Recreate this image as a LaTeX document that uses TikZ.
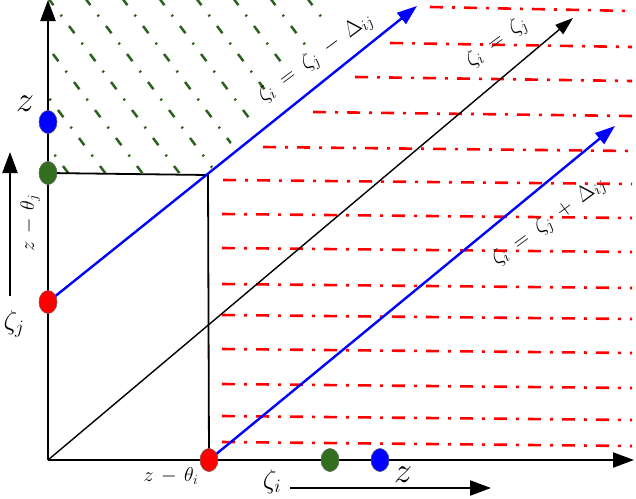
\RequirePackage{fix-cm}
\documentclass[tikz,border=0pt]{standalone}
\usetikzlibrary{arrows.meta,shapes.geometric}
\definecolor{hatchgreen}{RGB}{45,95,30}
\definecolor{dotgreen}{RGB}{50,110,30}
\begin{document}
\begin{tikzpicture}[x=1pt,y=-1pt,
  dot/.style={ellipse, draw=black!55, line width=0.4pt, minimum width=18pt, minimum height=23pt, inner sep=0pt},
  axisline/.style={line width=2.2pt, -{Triangle[length=21pt,width=15pt]}},
  redline/.style={red, line width=2.6pt, dash pattern=on 13pt off 9pt on 3pt off 9pt},
  hatchline/.style={hatchgreen, line width=2.5pt, dash pattern=on 9pt off 12pt on 2pt off 12pt},
  blueline/.style={blue, line width=2.4pt, -{Triangle[length=20pt,width=14pt]}},
  blackline/.style={black, line width=1.4pt, -{Triangle[length=18pt,width=12pt]}},
  boxline/.style={black, line width=1.8pt},
  biglbl/.style={inner sep=0pt, font=\fontsize{36}{36}\selectfont},
  midlbl/.style={inner sep=0pt, font=\fontsize{27}{27}\selectfont},
  smalllbl/.style={inner sep=0pt, font=\fontsize{20}{20}\selectfont},
  linelbl/.style={inner sep=0pt, rotate=36.5, font=\fontsize{22}{22}\selectfont},
]
\useasboundingbox (0,0) rectangle (636,498);

% green hatching
\begin{scope}
  \clip (48,0) -- (340,0) -- (208,173) -- (48,173) -- cycle;
  \foreach \k in {-5,...,9} {
    \draw[hatchline] ({48+\k*37},-2) -- ++(150,200);
  }
\end{scope}

% red dash-dot lines
\foreach \ys/\xs in {7/430,43/390,77/355,112/313,147/263,180/223,214/222,248/222,284/222,315/222,349/222,384/222,416/222,442/222} {
  \draw[redline] (\xs,\ys) -- (632,{\ys+4});
}

% coordinates
\coordinate (O) at (48,460);
\coordinate (ytop) at (48,0);
\coordinate (xend) at (634,460);
\coordinate (c1) at (208,175);
\coordinate (t1) at (417,6);
\coordinate (t0) at (573,18);
\coordinate (t2) at (615,126);
\coordinate (zja) at (10,296);
\coordinate (zjb) at (10,152);
\coordinate (zia) at (290,488);
\coordinate (zib) at (491,488);

% dots (positions)
\node[dot, fill=blue] (bz) at (48,122) {};
\node[dot, fill=dotgreen] (gj) at (48,173) {};
\node[dot, fill=red] (rj) at (48,302) {};
\node[dot, fill=red] (ri) at (209,460) {};
\node[dot, fill=dotgreen] (gi) at (330,460) {};
\node[dot, fill=blue] (bi) at (380,460) {};

% rectangle
\draw[boxline] (gj.center) -- (c1) -- (ri.center);

% diagonals
\draw[blackline] (O) -- (t0);
\draw[blueline] (rj.center) -- (t1);
\draw[blueline] (ri.center) -- (t2);

% axes
\draw[axisline] (O) -- (ytop);
\draw[axisline] (O) -- (xend);
\draw[axisline] (zja) -- (zjb);
\draw[axisline] (zia) -- (zib);

% redraw dots on top
\node[dot, fill=blue] at (bz) {};
\node[dot, fill=dotgreen] at (gj) {};
\node[dot, fill=red] at (rj) {};
\node[dot, fill=red] at (ri) {};
\node[dot, fill=dotgreen] at (gi) {};
\node[dot, fill=blue] at (bi) {};

% labels
\node[biglbl] (lz1) at (25,104) {$z$};
\node[biglbl] (lz2) at (403,475) {$z$};
\node[midlbl] (lzj) at (14,324) {$\zeta_j$};
\node[midlbl] (lzi) at (272,482) {$\zeta_i$};
\node[smalllbl] (lti) at (171,476) {$z\hspace{3pt}-\hspace{3pt}\theta_i$};
\node[smalllbl, rotate=90] (ltj) at (30,223) {$z\hspace{3pt}-\hspace{3pt}\theta_j$};
\node[linelbl] (l1) at (316,58) {$\zeta_i\hspace{5pt}=\hspace{5pt}\zeta_j\hspace{5pt}-\hspace{5pt}\Delta_{ij}$};
\node[linelbl] (l2) at (497,43) {$\zeta_i\hspace{5pt}=\hspace{5pt}\zeta_j$};
\node[linelbl] (l3) at (549,222) {$\zeta_i\hspace{5pt}=\hspace{5pt}\zeta_j\hspace{5pt}+\hspace{5pt}\Delta_{ij}$};
\end{tikzpicture}
\end{document}
